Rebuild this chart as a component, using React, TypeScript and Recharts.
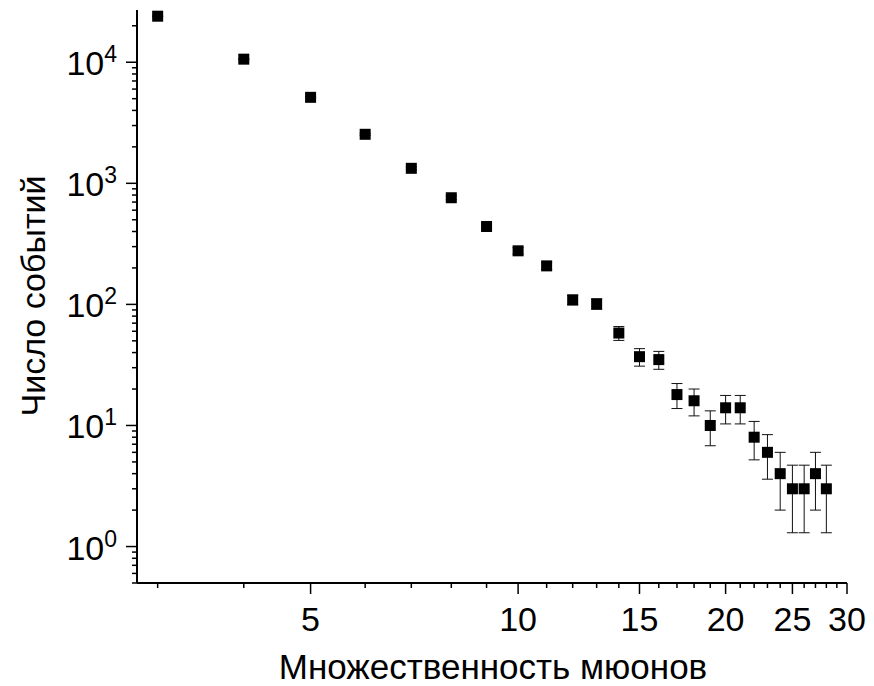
import { ErrorBar, Scatter, ScatterChart, XAxis, YAxis } from 'recharts'

// muon multiplicity
const multiplicity = [3, 4, 5, 6, 7, 8, 9, 10, 11, 12, 13, 14, 15, 16, 17, 18, 19, 20, 21, 22, 23, 24, 25, 26, 27, 28]
// number of events
const events = [24000, 10600, 5130, 2540, 1330, 760, 440, 277, 208, 109, 101, 58, 37, 35, 18, 16, 10, 14, 14, 8, 6, 4, 3, 3, 4, 3]
// statistical error
const errors = [155, 103, 72, 50, 36, 28, 21, 17, 14, 10, 10, 7.6, 6.1, 5.9, 4.2, 4, 3.2, 3.7, 3.7, 2.8, 2.4, 2, 1.7, 1.7, 2, 1.7]

const xTicks = [3, 4, 5, 6, 7, 8, 9, 10, 11, 12, 13, 14, 15, 16, 17, 18, 19, 20, 21, 22, 23, 24, 25, 26, 27, 28, 29, 30]
const xLabels = [5, 10, 15, 20, 25, 30]
const yTicks = [
  0.5, 0.6, 0.7, 0.8, 0.9,
  1, 2, 3, 4, 5, 6, 7, 8, 9,
  10, 20, 30, 40, 50, 60, 70, 80, 90,
  100, 200, 300, 400, 500, 600, 700, 800, 900,
  1000, 2000, 3000, 4000, 5000, 6000, 7000, 8000, 9000,
  10000, 20000,
]
const yLabels = [1, 10, 100, 1000, 10000]

const data = multiplicity.map((x, i) => ({ x, y: events[i], err: errors[i] }))

const FONT = '"Liberation Sans", Arial, sans-serif'

const XTick = (props: any) => {
  const { x, y, payload } = props
  const major = xLabels.includes(payload.value)
  return (
    <g>
      <line x1={x} y1={y} x2={x} y2={y + (major ? 11 : 5)} stroke="#000" strokeWidth={1.5} />
      {major && (
        <text x={x} y={y + 48} textAnchor="middle" fontSize={34} fontFamily={FONT} fill="#000">
          {payload.value}
        </text>
      )}
    </g>
  )
}

const YTick = (props: any) => {
  const { x, y, payload } = props
  const idx = yLabels.indexOf(payload.value)
  const major = idx >= 0
  return (
    <g>
      <line x1={x - (major ? 11 : 5)} y1={y} x2={x} y2={y} stroke="#000" strokeWidth={1.5} />
      {major && (
        <text x={x - 20} y={y + 13} textAnchor="end" fontSize={34} fontFamily={FONT} fill="#000">
          10
          <tspan dy={-13} fontSize={23}>{idx}</tspan>
        </text>
      )}
    </g>
  )
}

const Square = (props: any) => {
  const { cx, cy } = props
  return <rect x={cx - 5.5} y={cy - 5.5} width={11} height={11} fill="#000" />
}

export default function App() {
  return (
    <div style={{ position: 'absolute', left: 0, top: 0, background: '#fff' }}>
      <ScatterChart width={874} height={686} margin={{ top: 10, right: 27, left: 0, bottom: 0 }}>
        <XAxis
          type="number"
          dataKey="x"
          scale="log"
          domain={[2.8, 30]}
          allowDataOverflow
          ticks={xTicks}
          interval={0}
          tick={XTick}
          tickLine={false}
          tickSize={0}
          tickMargin={0}
          axisLine={{ stroke: '#000', strokeWidth: 2 }}
          height={103}
          label={{
            content: () => (
              <text x={493} y={679} textAnchor="middle" fontSize={35} fontFamily={FONT} fill="#000">
                Множественность мюонов
              </text>
            ),
          }}
        />
        <YAxis
          type="number"
          dataKey="y"
          scale="log"
          domain={[0.5, 27000]}
          allowDataOverflow
          ticks={yTicks}
          interval={0}
          tick={YTick}
          tickLine={false}
          tickSize={0}
          tickMargin={0}
          axisLine={{ stroke: '#000', strokeWidth: 2 }}
          width={137}
          label={{
            content: () => (
              <text
                x={45}
                y={296}
                transform="rotate(-90 45 296)"
                textAnchor="middle"
                fontSize={34}
                fontFamily={FONT}
                fill="#000"
              >
                Число событий
              </text>
            ),
          }}
        />
        <Scatter data={data} shape={Square} isAnimationActive={false}>
          <ErrorBar dataKey="err" direction="y" width={5.5} stroke="#111" strokeWidth={1} />
        </Scatter>
      </ScatterChart>
    </div>
  )
}
